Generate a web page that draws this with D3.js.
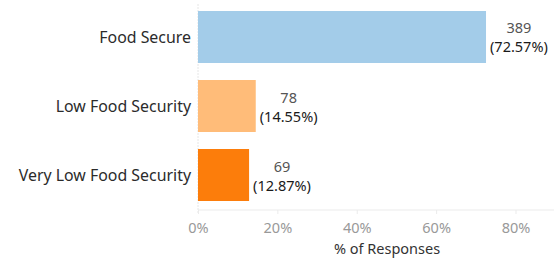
<!DOCTYPE html>
<html>
<head>
<meta charset="utf-8">
<script src="https://cdn.jsdelivr.net/npm/d3@7"></script>
<style>
  body { margin: 0; background: #fff; }
  text { font-family: "Noto Sans", sans-serif; }
</style>
</head>
<body>
<div id="chart"></div>
<script>
const categories = ["Food Secure", "Low Food Security", "Very Low Food Security"];
const counts = [389, 78, 69];
const percents = [72.57, 14.55, 12.87];
const colors = ["#a3cce9", "#ffbc79", "#fc7d0b"];
const ticks = [0, 20, 40, 60, 80];

const width = 554, height = 260;
const left = 198, axisY = 210;

const svg = d3.select("#chart").append("svg")
    .attr("width", width).attr("height", height);

const x = d3.scaleLinear().domain([0, 89.7]).range([left, width]);
const y = d3.scaleBand().domain(categories).range([4.1, 207.9]).paddingInner(0.2464).paddingOuter(0.1);

// zero line and axis line
svg.append("line")
    .attr("x1", x(0)).attr("x2", x(0)).attr("y1", 4).attr("y2", 214)
    .attr("stroke", "#e6e6e6").attr("stroke-dasharray", "2,1");
svg.append("line")
    .attr("x1", x(0)).attr("x2", width).attr("y1", axisY).attr("y2", axisY)
    .attr("stroke", "#ebebeb");

const bars = svg.append("g").selectAll("g")
    .data(categories)
    .join("g");

bars.append("rect")
    .attr("x", x(0))
    .attr("y", d => y(d))
    .attr("width", (d, i) => x(percents[i]) - x(0))
    .attr("height", y.bandwidth())
    .attr("fill", (d, i) => colors[i]);

bars.append("text")
    .attr("x", x(0) - 7)
    .attr("y", d => y(d) + y.bandwidth() / 2)
    .attr("dy", "0.35em")
    .attr("text-anchor", "end")
    .attr("font-size", 15.9)
    .attr("fill", "#2b2b2b")
    .text(d => d);

bars.each(function(d, i) {
    const g = d3.select(this);
    const cx = x(percents[i]) + 4;
    const mid = y(d) + y.bandwidth() / 2;
    const pct = g.append("text")
        .attr("x", cx)
        .attr("y", mid + 15.5)
        .attr("font-size", 14.5)
        .attr("fill", "#1a1a1a")
        .text(`(${percents[i].toFixed(2)}%)`);
    const w = pct.node().getComputedTextLength();
    g.append("text")
        .attr("x", cx + w / 2)
        .attr("y", mid - 3.5)
        .attr("text-anchor", "middle")
        .attr("font-size", 14.5)
        .attr("fill", "#555")
        .text(counts[i]);
});

const axis = svg.append("g").attr("transform", `translate(0,${axisY})`)
    .call(d3.axisBottom(x).tickValues(ticks).tickFormat(d => d + "%").tickSize(4).tickPadding(9));
axis.select(".domain").remove();
axis.selectAll(".tick line").attr("stroke", "#ebebeb");
axis.selectAll(".tick text")
    .attr("font-size", 14.5)
    .attr("font-family", "Noto Sans, sans-serif")
    .attr("fill", "#999");

svg.append("text")
    .attr("x", 387).attr("y", 253.5)
    .attr("text-anchor", "middle")
    .attr("font-size", 14.5)
    .attr("fill", "#333")
    .text("% of Responses");
</script>
</body>
</html>
